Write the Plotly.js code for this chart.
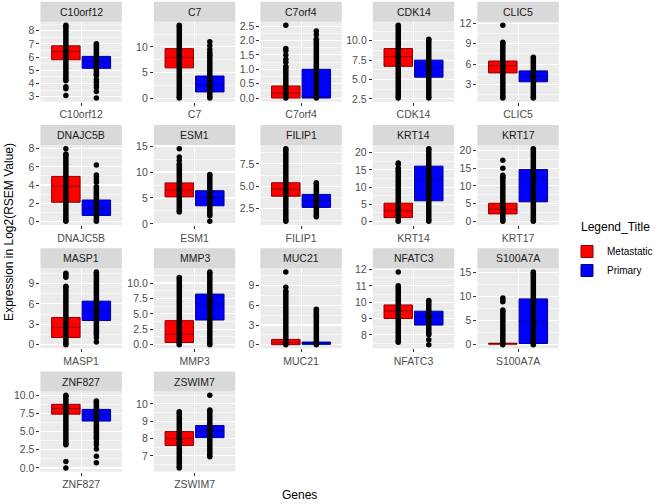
<!DOCTYPE html>
<html><head><meta charset="utf-8">
<script src="https://cdn.plot.ly/plotly-3.0.1.min.js"></script>
<style>html,body{margin:0;padding:0;background:#fff;}#chart{width:658px;height:504px;}</style>
</head><body><div id="chart"></div>
<script>
// ---- data ----
const genes = ["C10orf12","C7","C7orf4","CDK14","CLIC5","DNAJC5B","ESM1","FILIP1","KRT14","KRT17","MASP1","MMP3","MUC21","NFATC3","S100A7A","ZNF827","ZSWIM7"];
const groupNames = ["Metastatic","Primary"];

const metQ1  = [5.8, 5.9, 0.0, 6.7, 4.7, 2.1, 5.2, 3.9, 1.1, 2.1, 1.05, 0.35, 0.0, 9.0, 0.1, 7.4, 7.6];
const metMed = [6.4, 7.9, 0.17, 7.95, 5.75, 3.85, 6.55, 4.7, 3.1, 3.4, 2.55, 1.7, 0.3, 9.47, 0.2, 8.2, 8.0];
const metQ3  = [6.85, 9.65, 0.42, 9.0, 6.45, 4.95, 7.9, 5.4, 5.3, 5.1, 4.0, 3.9, 0.8, 9.83, 0.3, 8.75, 8.4];
const metLo  = [4.2, 0.0, 0.0, 2.6, 1.0, 0.0, 2.3, 1.1, 0.0, 0.0, 0.0, 0.0, 0.0, 7.55, 0.0, 3.2, 6.3];
const metHi  = [8.4, 14.2, 1.1, 12.0, 9.2, 7.4, 11.5, 9.2, 15.5, 12.5, 8.6, 10.9, 8.2, 11.0, 7.2, 10.0, 9.55];
const metOut = [[3.75,3.6,3.1],[],[1.25,1.35,1.5,1.65,1.72,2.53],[],[11.7],[8.0],[12.2,12.9,14.5],[],[16.6,17.0],[13.0,15.0,17.2],[9.9,10.2,10.5],[],[8.75,11.1],[11.85],[8.9,9.3,9.7],[0.9,0.0],[]];

const priQ1  = [5.15, 1.2, 0.0, 5.3, 3.4, 0.65, 3.5, 2.65, 6.0, 5.5, 3.55, 4.0, 0.05, 8.6, 0.25, 6.45, 8.05];
const priMed = [5.65, 2.6, 0.0, 6.5, 4.2, 1.45, 5.1, 3.45, 12.2, 11.9, 5.0, 6.6, 0.2, 9.15, 4.7, 7.35, 8.45];
const priQ3  = [6.05, 4.3, 1.0, 7.5, 5.0, 2.35, 6.4, 4.1, 16.1, 14.6, 6.4, 8.2, 0.4, 9.45, 9.5, 8.05, 8.75];
const priLo  = [4.6, 0.0, 0.0, 2.6, 1.0, 0.0, 1.6, 1.6, 0.0, 0.0, 1.5, 0.0, 0.0, 8.0, 0.0, 4.0, 6.95];
const priHi  = [7.0, 8.4, 2.05, 10.2, 7.0, 3.8, 9.5, 5.4, 21.2, 20.5, 10.7, 11.8, 4.5, 10.1, 15.1, 9.2, 9.65];
const priOut = [[4.3,4.1,3.9,3.7,3.4,2.9],[8.9,9.5,10.2,11.0],[2.2,2.33],[],[],[4.3,4.6,4.9,5.1,6.2],[0.5],[],[],[],[1.0,0.4],[],[4.8,5.1,5.4],[7.7,7.4],[],[3.6,3.2,2.6,1.6,0.7],[10.5]];

// ---- axis tick settings ----
const yDtick = [1,5,0.5,2.5,3,2,5,2.5,5,5,3,2.5,3,1,5,2.5,1];
const yTickFmt = ["","",".1f",".1f","","","",".1f","","","",".1f","","","",".1f",""];

// ---- geometry (pixels) ----
const W = 658, H = 504;
const colLeft = [41, 156, 264, 378, 484];
const panelW = 82.5;
const stripTop0 = 1.7, rowStep = 123.3, stripH = 20, panelH = 80;
const xMet = 0.775, xPri = 1.225, boxW = 0.42;

const traces = [];
const layout = {
  width: W, height: H,
  margin: {l:0, r:0, t:0, b:0},
  paper_bgcolor: '#FFFFFF',
  plot_bgcolor: '#EBEBEB',
  font: {family: 'Liberation Sans, Arial, sans-serif', color: '#000'},
  showlegend: true,
  legend: {x: 575/W, y: 1 - 237/H, xanchor: 'left', yanchor: 'top',
           font: {size: 10, color: '#000'}, bgcolor: 'rgba(0,0,0,0)', tracegroupgap: 0},
  boxmode: 'overlay',
  shapes: [], annotations: []
};

genes.forEach((g, i) => {
  const s = i === 0 ? '' : String(i + 1);
  const xa = 'x' + s, ya = 'y' + s;
  const col = i % 5, row = Math.floor(i / 5);
  const L = colLeft[col];
  const S = stripTop0 + row * rowStep;
  const pTop = S + stripH, pBot = S + stripH + panelH;

  traces.push({type:'box', name: groupNames[0], x:[xMet], q1:[metQ1[i]], median:[metMed[i]], q3:[metQ3[i]],
    lowerfence:[metQ1[i]], upperfence:[metQ3[i]], width: boxW, whiskerwidth: 0,
    fillcolor:'#FF0000', line:{color:'#8B0000', width:1}, boxpoints:false,
    showlegend: i === 0, xaxis: xa, yaxis: ya, hoverinfo:'skip'});
  traces.push({type:'box', name: groupNames[1], x:[xPri], q1:[priQ1[i]], median:[priMed[i]], q3:[priQ3[i]],
    lowerfence:[priQ1[i]], upperfence:[priQ3[i]], width: boxW, whiskerwidth: 0,
    fillcolor:'#0000FF', line:{color:'#00008B', width:1}, boxpoints:false,
    showlegend: i === 0, xaxis: xa, yaxis: ya, hoverinfo:'skip'});
  traces.push({type:'scatter', mode:'lines+markers', x:[xMet, xMet, null, xPri, xPri],
    y:[metLo[i], metHi[i], null, priLo[i], priHi[i]], connectgaps:false,
    line:{color:'#000', width:5.5}, marker:{color:'#000', size:5.5},
    showlegend:false, xaxis: xa, yaxis: ya, hoverinfo:'skip'});
  traces.push({type:'scatter', mode:'markers',
    x: metOut[i].map(() => xMet).concat(priOut[i].map(() => xPri)),
    y: metOut[i].concat(priOut[i]),
    marker:{color:'#000', size:5.5}, showlegend:false, xaxis: xa, yaxis: ya, hoverinfo:'skip'});

  const all = [metLo[i], metHi[i], priLo[i], priHi[i], metQ1[i], metQ3[i], priQ1[i], priQ3[i]].concat(metOut[i], priOut[i]);
  const mn = Math.min(...all), mx = Math.max(...all), pad = (mx - mn) * 0.05;

  layout['xaxis' + s] = {
    domain: [L / W, (L + panelW) / W], anchor: ya, range: [0.4, 1.6],
    tickmode:'array', tickvals:[1], ticktext:[g], ticks:'outside', ticklen:3, tickwidth:1, tickcolor:'#333333',
    tickfont:{size:10.5, color:'#4D4D4D'}, showgrid:true, gridcolor:'#FFFFFF', gridwidth:1.1,
    zeroline:false, showline:false, fixedrange:true
  };
  layout['yaxis' + s] = {
    domain: [1 - pBot / H, 1 - pTop / H], anchor: xa, range: [mn - pad, mx + pad],
    tickmode:'linear', tick0:0, dtick: yDtick[i], tickformat: yTickFmt[i],
    ticks:'outside', ticklen:3, tickwidth:1, tickcolor:'#333333',
    tickfont:{size:10.5, color:'#4D4D4D'}, showgrid:true, gridcolor:'#FFFFFF', gridwidth:1.1,
    minor:{tick0:0, dtick: yDtick[i] / 2, showgrid:true, gridcolor:'#FFFFFF', gridwidth:0.55, ticks:''},
    zeroline:false, showline:false, fixedrange:true
  };

  layout.shapes.push({type:'rect', xref:'paper', yref:'paper', x0: L / W, x1: (L + panelW) / W,
    y0: 1 - (S + stripH) / H, y1: 1 - S / H, fillcolor:'#D9D9D9', line:{width:0}});
  layout.annotations.push({xref:'paper', yref:'paper', x:(L + panelW / 2) / W, y: 1 - (S + stripH / 2) / H,
    text: g, showarrow:false, xanchor:'center', yanchor:'middle', font:{size:10.5, color:'#1A1A1A'}});
});

layout.annotations.push({xref:'paper', yref:'paper', x: 304 / W, y: 1 - 495 / H, text:'Genes',
  showarrow:false, xanchor:'center', yanchor:'middle', font:{size:12, color:'#000'}});
layout.annotations.push({xref:'paper', yref:'paper', x: 9 / W, y: 1 - 232 / H, text:'Expression in Log2(RSEM Value)',
  showarrow:false, textangle:-90, xanchor:'center', yanchor:'middle', font:{size:12, color:'#000'}});
layout.annotations.push({xref:'paper', yref:'paper', x: 587 / W, y: 1 - 227 / H, text:'Legend_Title',
  showarrow:false, xanchor:'left', yanchor:'middle', font:{size:12, color:'#000'}});

Plotly.newPlot('chart', traces, layout, {staticPlot:true, displayModeBar:false});
</script>
</body></html>
